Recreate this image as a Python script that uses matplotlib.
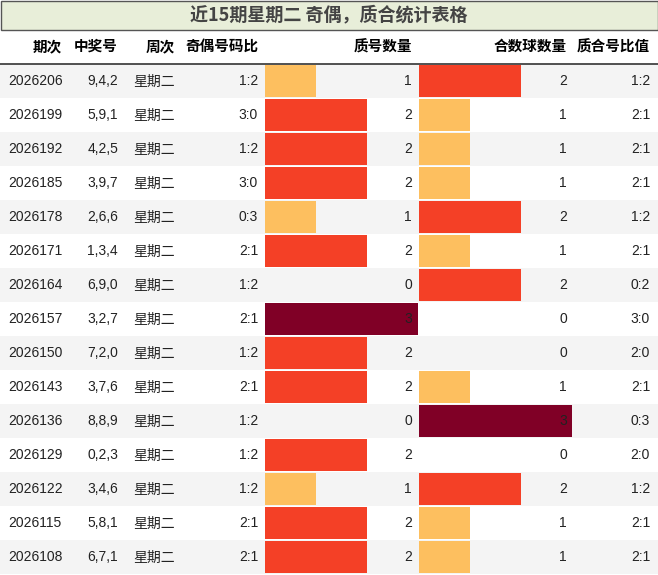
import matplotlib
matplotlib.use("Agg")
import matplotlib.pyplot as plt
from matplotlib.patches import Rectangle

issues = ["2026206","2026199","2026192","2026185","2026178","2026171","2026164","2026157",
          "2026150","2026143","2026136","2026129","2026122","2026115","2026108"]
numbers = ["9,4,2","5,9,1","4,2,5","3,9,7","2,6,6","1,3,4","6,9,0","3,2,7",
           "7,2,0","3,7,6","8,8,9","0,2,3","3,4,6","5,8,1","6,7,1"]
weekday = ["星期二"]*15
odd_even = ["1:2","3:0","1:2","3:0","0:3","2:1","1:2","2:1","1:2","2:1","1:2","1:2","1:2","2:1","2:1"]
prime_cnt = [1,2,2,2,1,2,0,3,2,2,0,2,1,2,2]
comp_cnt = [2,1,1,1,2,1,2,0,0,1,3,0,2,1,1]
ratio = ["1:2","2:1","2:1","2:1","1:2","2:1","0:2","3:0","2:0","2:1","0:3","2:0","1:2","2:1","2:1"]
headers = ["期次","中奖号","周次","奇偶号码比","质号数量","合数球数量","质合号比值"]
title = "近15期星期二 奇偶，质合统计表格"

colors = {1:"#fdbf5f", 2:"#f44026", 3:"#800026"}
FONT = ["Liberation Sans","Noto Sans CJK SC","DejaVu Sans"]
W, H = 658, 575
fig = plt.figure(figsize=(W/100, H/100), dpi=100)
ax = fig.add_axes([0,0,1,1])
ax.set_xlim(0, W); ax.set_ylim(H, 0); ax.axis("off")

ax.add_patch(Rectangle((0.5,0.5), W-1, 29, facecolor="#e8eed9", edgecolor="#555555", lw=1))
ax.text(W/2, 15, title, ha="center", va="center", fontsize=13, fontweight="bold",
        color="#444444", family=["Noto Sans CJK SC","DejaVu Sans"])

hy = 47
hx = [62,118,175,258,412,567,650]
for x, h in zip(hx, headers):
    ax.text(x, hy, h, ha="right", va="center", fontsize=10.5, fontweight="bold", family=FONT)
ax.plot([0,W],[64,64], color="#333333", lw=1.2)

top, rh = 64, 34
b1x, b2x, bw = 265, 419, 51
for i in range(15):
    y0 = top + i*rh
    if i % 2 == 0:
        ax.add_patch(Rectangle((0,y0), W, rh, facecolor="#f4f4f4", edgecolor="none"))
    yc = y0 + rh/2
    if prime_cnt[i]:
        ax.add_patch(Rectangle((b1x,y0+1), bw*prime_cnt[i], rh-2, facecolor=colors[prime_cnt[i]], edgecolor="none"))
    if comp_cnt[i]:
        ax.add_patch(Rectangle((b2x,y0+1), bw*comp_cnt[i], rh-2, facecolor=colors[comp_cnt[i]], edgecolor="none"))
    kw = dict(va="center", fontsize=10, family=FONT, color="#222222")
    ax.text(8, yc, issues[i], ha="left", **kw)
    ax.text(118, yc, numbers[i], ha="right", **kw)
    ax.text(133, yc+1, weekday[i], ha="left", **kw)
    ax.text(258, yc, odd_even[i], ha="right", **kw)
    ax.text(412, yc, str(prime_cnt[i]), ha="right", **kw)
    ax.text(567, yc, str(comp_cnt[i]), ha="right", **kw)
    ax.text(650, yc, ratio[i], ha="right", **kw)

fig.savefig("out.png", dpi=100)
